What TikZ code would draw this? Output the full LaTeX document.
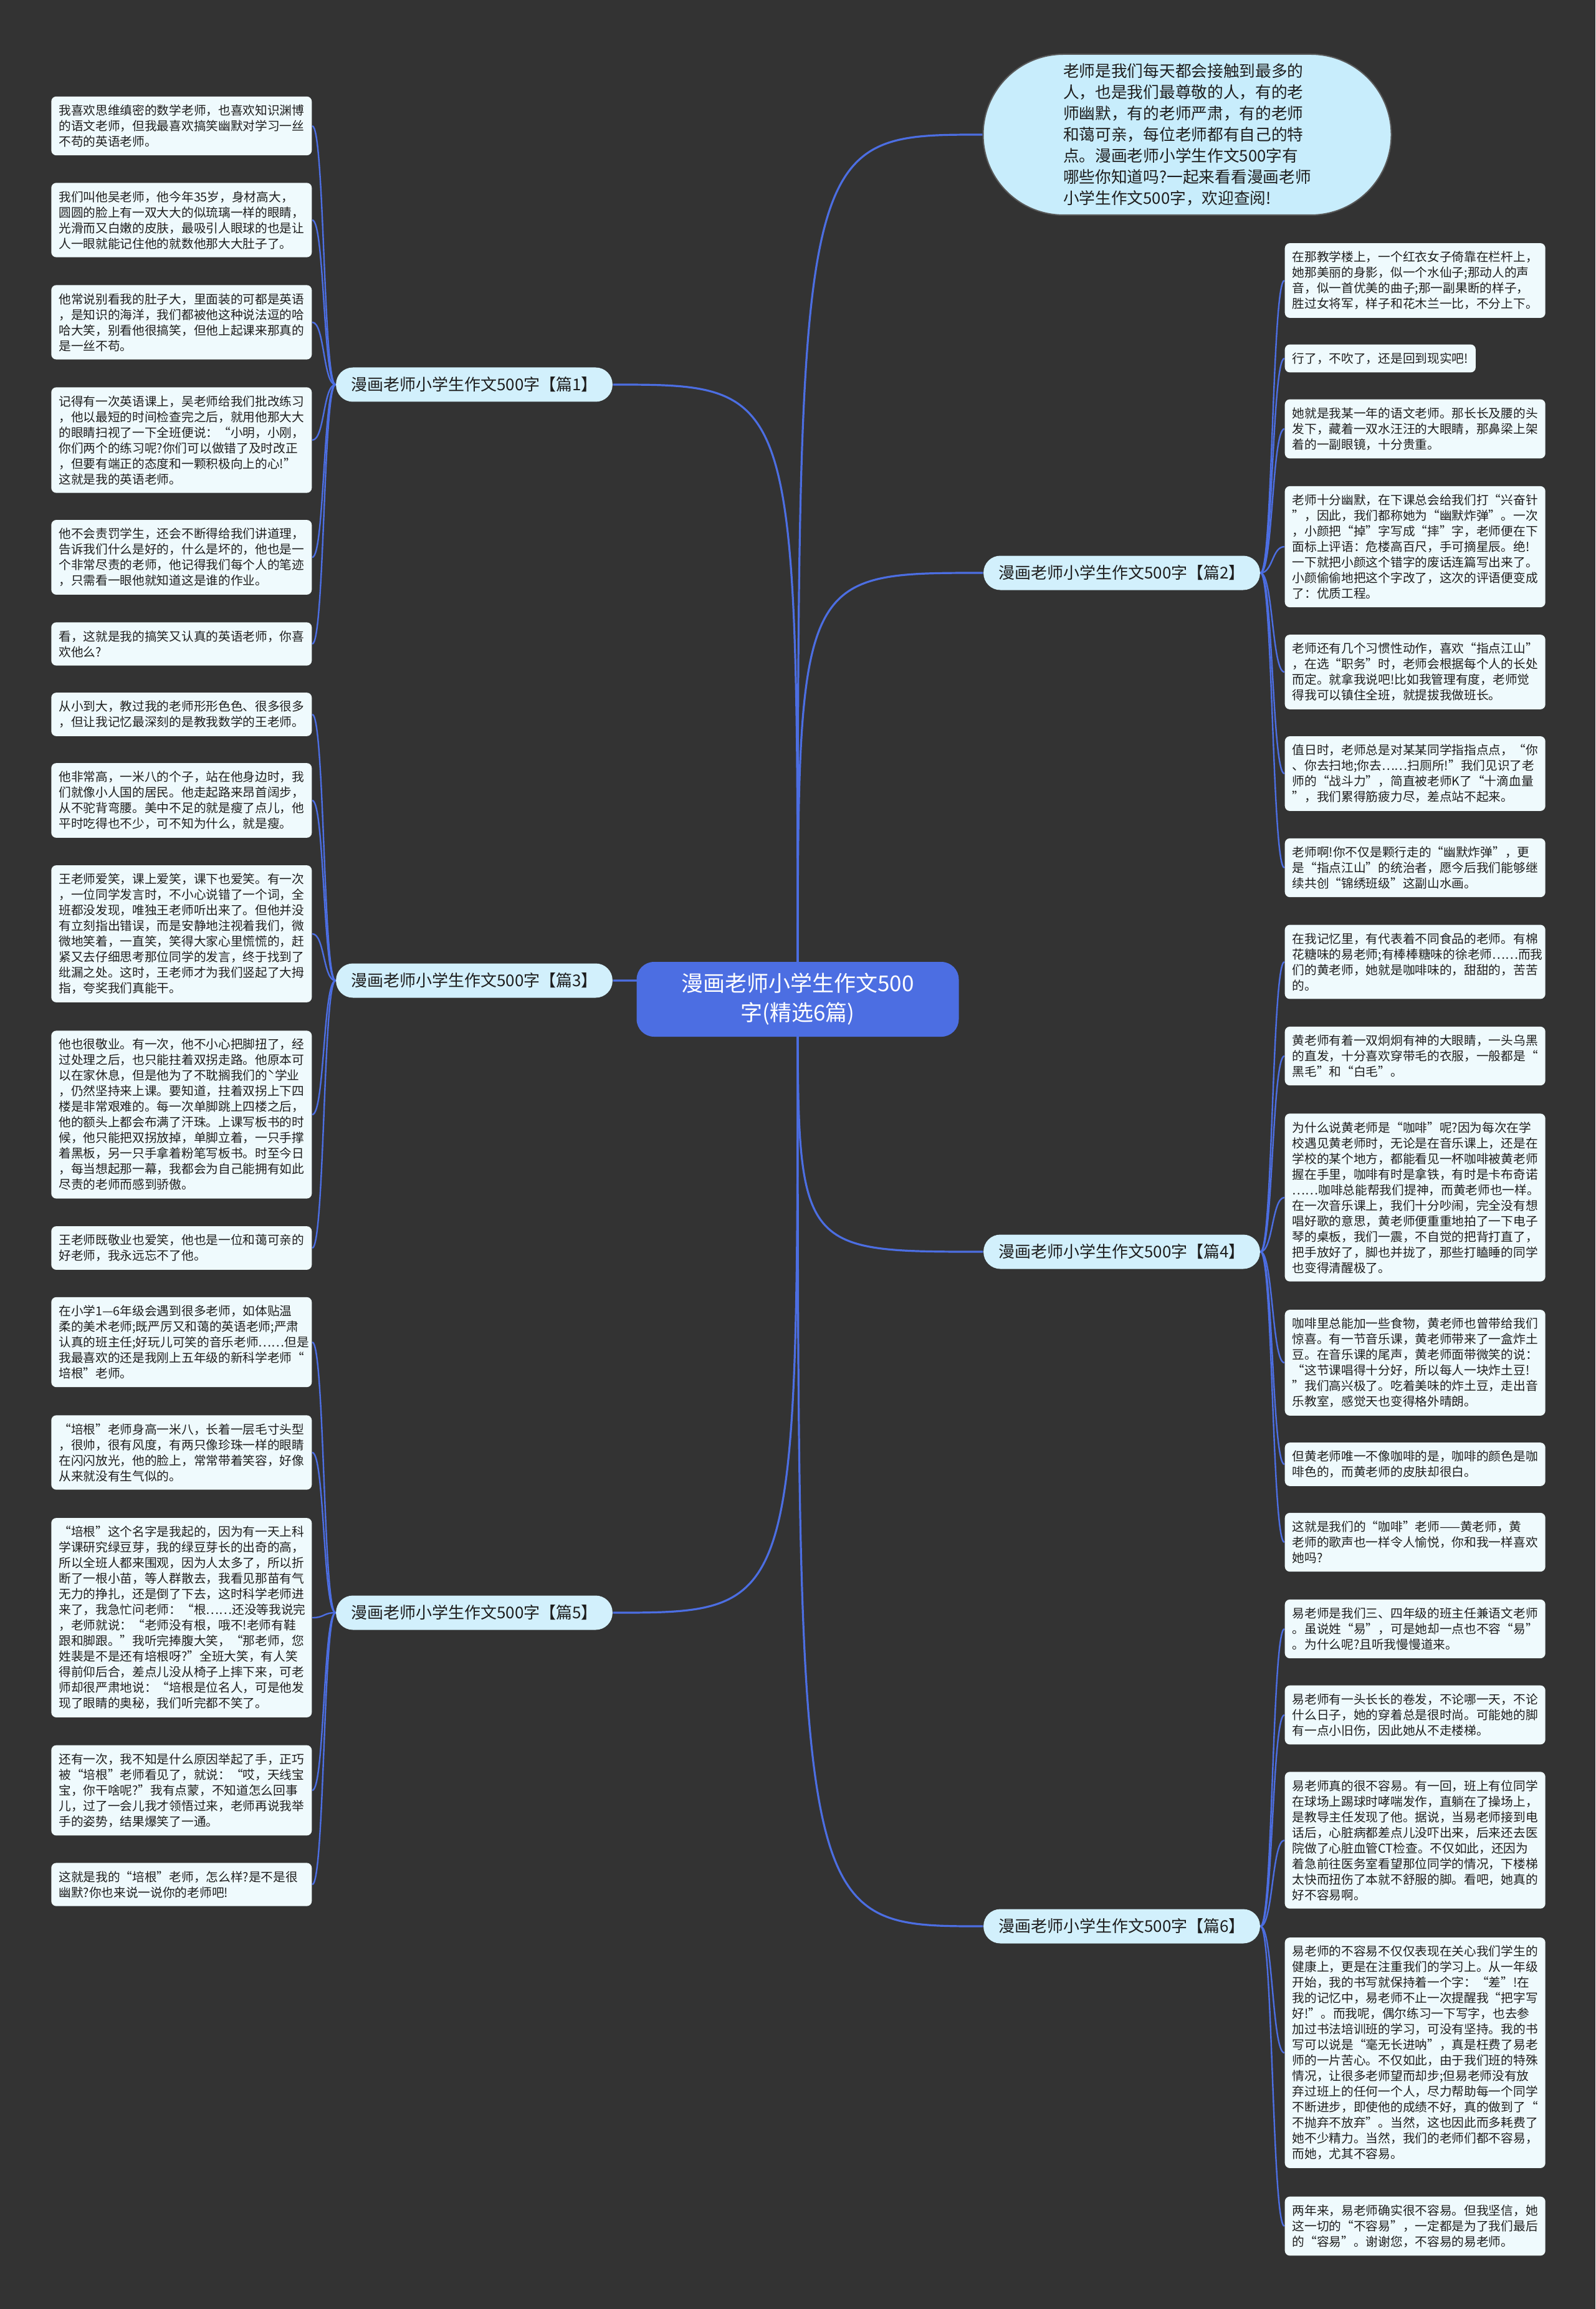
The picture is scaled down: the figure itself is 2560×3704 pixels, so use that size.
\documentclass[tikz,border=0pt]{standalone}
\usepackage{fontspec}
\setmainfont{Noto Sans CJK SC}
\usetikzlibrary{positioning, backgrounds, calc}
\definecolor{mmbg}{HTML}{333333}
\definecolor{mmblue}{HTML}{4C6EE2}
\definecolor{mmbranch}{HTML}{D2F0FC}
\definecolor{mmleaf}{HTML}{EFFAFD}
\definecolor{mmintro}{HTML}{C8EDFC}
\definecolor{mmtext}{HTML}{1E1E1E}

\tikzset{
  rootbox/.style={fill=mmblue, text=white, rounded corners=2.8mm, align=center,
    minimum width=51.7mm, minimum height=12mm, inner sep=1mm,
    font=\fontsize{3.5mm}{4.7mm}\selectfont},
  introbox/.style={fill=mmintro, draw=black!65, line width=0.2mm, rounded corners=12.9mm,
    minimum width=65.5mm, minimum height=25.8mm, align=left, text=mmtext,
    font=\fontsize{2.57mm}{3.4mm}\selectfont},
  branchbox/.style={fill=mmbranch, text=mmtext, rounded corners=2.7mm,
    inner xsep=2.4mm, inner ysep=1.4mm, minimum height=5.5mm,
    font=\fontsize{2.6mm}{3mm}\selectfont},
  leafbox/.style={fill=mmleaf, text=mmtext, rounded corners=0.8mm, align=left,
    text width=39.4mm, inner xsep=1.2mm, inner ysep=1.3mm,
    font=\fontsize{1.97mm}{2.5mm}\selectfont},
  leafshort/.style={fill=mmleaf, text=mmtext, rounded corners=0.8mm, align=left,
    inner xsep=1.2mm, inner ysep=1.3mm,
    font=\fontsize{1.97mm}{2.5mm}\selectfont},
  rootedge/.style={draw=mmblue, line width=0.32mm},
  leafedge/.style={draw=mmblue, line width=0.24mm}
}

\begin{document}
\begin{tikzpicture}[x=0.1mm, y=-0.1mm]
\useasboundingbox (0,0) rectangle (2560,3704);

% centre and intro
\node[rootbox] (root) at (1280,1603) {漫画老师小学生作文500\\字(精选6篇)};
\node[introbox] (intro) at (1905,216) {老师是我们每天都会接触到最多的\\人，也是我们最尊敬的人，有的老\\师幽默，有的老师严肃，有的老师\\和蔼可亲，每位老师都有自己的特\\点。漫画老师小学生作文500字有\\哪些你知道吗?一起来看看漫画老师\\小学生作文500字，欢迎查阅!};

% branches
\node[branchbox] (p1) at (761,617) {漫画老师小学生作文500字【篇1】};
\node[branchbox] (p2) at (1800,919) {漫画老师小学生作文500字【篇2】};
\node[branchbox] (p3) at (761,1573) {漫画老师小学生作文500字【篇3】};
\node[branchbox] (p4) at (1800,2008) {漫画老师小学生作文500字【篇4】};
\node[branchbox] (p5) at (761,2587) {漫画老师小学生作文500字【篇5】};
\node[branchbox] (p6) at (1800,3090) {漫画老师小学生作文500字【篇6】};

% 篇1
\node[leafbox, anchor=east] (l1a) at (501,202) {我喜欢思维缜密的数学老师，也喜欢知识渊博\\的语文老师，但我最喜欢搞笑幽默对学习一丝\\不苟的英语老师。};
\node[leafbox, anchor=east] (l1b) at (501,353) {我们叫他吴老师，他今年35岁，身材高大，\\圆圆的脸上有一双大大的似琉璃一样的眼睛，\\光滑而又白嫩的皮肤，最吸引人眼球的也是让\\人一眼就能记住他的就数他那大大肚子了。};
\node[leafbox, anchor=east] (l1c) at (501,517) {他常说别看我的肚子大，里面装的可都是英语\\，是知识的海洋，我们都被他这种说法逗的哈\\哈大笑，别看他很搞笑，但他上起课来那真的\\是一丝不苟。};
\node[leafbox, anchor=east] (l1d) at (501,706) {记得有一次英语课上，吴老师给我们批改练习\\，他以最短的时间检查完之后，就用他那大大\\的眼睛扫视了一下全班便说：“小明，小刚，\\你们两个的练习呢?你们可以做错了及时改正\\，但要有端正的态度和一颗积极向上的心!”\\这就是我的英语老师。};
\node[leafbox, anchor=east] (l1e) at (501,894) {他不会责罚学生，还会不断得给我们讲道理，\\告诉我们什么是好的，什么是坏的，他也是一\\个非常尽责的老师，他记得我们每个人的笔迹\\，只需看一眼他就知道这是谁的作业。};
\node[leafbox, anchor=east] (l1f) at (501,1033) {看，这就是我的搞笑又认真的英语老师，你喜\\欢他么?};

% 篇3
\node[leafbox, anchor=east] (l3a) at (501,1146) {从小到大，教过我的老师形形色色、很多很多\\，但让我记忆最深刻的是教我数学的王老师。};
\node[leafbox, anchor=east] (l3b) at (501,1284) {他非常高，一米八的个子，站在他身边时，我\\们就像小人国的居民。他走起路来昂首阔步，\\从不驼背弯腰。美中不足的就是瘦了点儿，他\\平时吃得也不少，可不知为什么，就是瘦。};
\node[leafbox, anchor=east] (l3c) at (501,1498) {王老师爱笑，课上爱笑，课下也爱笑。有一次\\，一位同学发言时，不小心说错了一个词，全\\班都没发现，唯独王老师听出来了。但他并没\\有立刻指出错误，而是安静地注视着我们，微\\微地笑着，一直笑，笑得大家心里慌慌的，赶\\紧又去仔细思考那位同学的发言，终于找到了\\纰漏之处。这时，王老师才为我们竖起了大拇\\指，夸奖我们真能干。};
\node[leafbox, anchor=east] (l3d) at (501,1788) {他也很敬业。有一次，他不小心把脚扭了，经\\过处理之后，也只能拄着双拐走路。他原本可\\以在家休息，但是他为了不耽搁我们的ˋ学业\\，仍然坚持来上课。要知道，拄着双拐上下四\\楼是非常艰难的。每一次单脚跳上四楼之后，\\他的额头上都会布满了汗珠。上课写板书的时\\候，他只能把双拐放掉，单脚立着，一只手撑\\着黑板，另一只手拿着粉笔写板书。时至今日\\，每当想起那一幕，我都会为自己能拥有如此\\尽责的老师而感到骄傲。};
\node[leafbox, anchor=east] (l3e) at (501,2002) {王老师既敬业也爱笑，他也是一位和蔼可亲的\\好老师，我永远忘不了他。};

% 篇5
\node[leafbox, anchor=east] (l5a) at (501,2153) {在小学1—6年级会遇到很多老师，如体贴温\\柔的美术老师;既严厉又和蔼的英语老师;严肃\\认真的班主任;好玩儿可笑的音乐老师……但是\\我最喜欢的还是我刚上五年级的新科学老师“\\培根”老师。};
\node[leafbox, anchor=east] (l5b) at (501,2330) {“培根”老师身高一米八，长着一层毛寸头型\\，很帅，很有风度，有两只像珍珠一样的眼睛\\在闪闪放光，他的脸上，常常带着笑容，好像\\从来就没有生气似的。};
\node[leafbox, anchor=east] (l5c) at (501,2595) {“培根”这个名字是我起的，因为有一天上科\\学课研究绿豆芽，我的绿豆芽长的出奇的高，\\所以全班人都来围观，因为人太多了，所以折\\断了一根小苗，等人群散去，我看见那苗有气\\无力的挣扎，还是倒了下去，这时科学老师进\\来了，我急忙问老师：“根……还没等我说完\\，老师就说：“老师没有根，哦不!老师有鞋\\跟和脚跟。”我听完捧腹大笑，“那老师，您\\姓裴是不是还有培根呀?”全班大笑，有人笑\\得前仰后合，差点儿没从椅子上摔下来，可老\\师却很严肃地说：“培根是位名人，可是他发\\现了眼睛的奥秘，我们听完都不笑了。};
\node[leafbox, anchor=east] (l5d) at (501,2872) {还有一次，我不知是什么原因举起了手，正巧\\被“培根”老师看见了，就说：“哎，天线宝\\宝，你干啥呢?”我有点蒙，不知道怎么回事\\儿，过了一会儿我才领悟过来，老师再说我举\\手的姿势，结果爆笑了一通。};
\node[leafbox, anchor=east] (l5e) at (501,3023) {这就是我的“培根”老师，怎么样?是不是很\\幽默?你也来说一说你的老师吧!};

% 篇2
\node[leafbox, anchor=west] (r2a) at (2061,450) {在那教学楼上，一个红衣女子倚靠在栏杆上，\\她那美丽的身影，似一个水仙子;那动人的声\\音，似一首优美的曲子;那一副果断的样子，\\胜过女将军，样子和花木兰一比，不分上下。};
\node[leafshort, anchor=west] (r2b) at (2061,575) {行了，不吹了，还是回到现实吧!};
\node[leafbox, anchor=west] (r2c) at (2061,688) {她就是我某一年的语文老师。那长长及腰的头\\发下，藏着一双水汪汪的大眼睛，那鼻梁上架\\着的一副眼镜，十分贵重。};
\node[leafbox, anchor=west] (r2d) at (2061,877) {老师十分幽默，在下课总会给我们打“兴奋针\\”，因此，我们都称她为“幽默炸弹”。一次\\，小颜把“掉”字写成“摔”字，老师便在下\\面标上评语：危楼高百尺，手可摘星辰。绝!\\一下就把小颜这个错字的废话连篇写出来了。\\小颜偷偷地把这个字改了，这次的评语便变成\\了：优质工程。};
\node[leafbox, anchor=west] (r2e) at (2061,1078) {老师还有几个习惯性动作，喜欢“指点江山”\\，在选“职务”时，老师会根据每个人的长处\\而定。就拿我说吧!比如我管理有度，老师觉\\得我可以镇住全班，就提拔我做班长。};
\node[leafbox, anchor=west] (r2f) at (2061,1241) {值日时，老师总是对某某同学指指点点，“你\\、你去扫地;你去……扫厕所!”我们见识了老\\师的“战斗力”，简直被老师K了“十滴血量\\”，我们累得筋疲力尽，差点站不起来。};
\node[leafbox, anchor=west] (r2g) at (2061,1392) {老师啊!你不仅是颗行走的“幽默炸弹”，更\\是“指点江山”的统治者，愿今后我们能够继\\续共创“锦绣班级”这副山水画。};

% 篇4
\node[leafbox, anchor=west] (r4a) at (2061,1543) {在我记忆里，有代表着不同食品的老师。有棉\\花糖味的易老师;有棒棒糖味的徐老师……而我\\们的黄老师，她就是咖啡味的，甜甜的，苦苦\\的。};
\node[leafbox, anchor=west] (r4b) at (2061,1694) {黄老师有着一双炯炯有神的大眼睛，一头乌黑\\的直发，十分喜欢穿带毛的衣服，一般都是“\\黑毛”和“白毛”。};
\node[leafbox, anchor=west] (r4c) at (2061,1921) {为什么说黄老师是“咖啡”呢?因为每次在学\\校遇见黄老师时，无论是在音乐课上，还是在\\学校的某个地方，都能看见一杯咖啡被黄老师\\握在手里，咖啡有时是拿铁，有时是卡布奇诺\\……咖啡总能帮我们提神，而黄老师也一样。\\在一次音乐课上，我们十分吵闹，完全没有想\\唱好歌的意思，黄老师便重重地拍了一下电子\\琴的桌板，我们一震，不自觉的把背打直了，\\把手放好了，脚也并拢了，那些打瞌睡的同学\\也变得清醒极了。};
\node[leafbox, anchor=west] (r4d) at (2061,2186) {咖啡里总能加一些食物，黄老师也曾带给我们\\惊喜。有一节音乐课，黄老师带来了一盒炸土\\豆。在音乐课的尾声，黄老师面带微笑的说：\\“这节课唱得十分好，所以每人一块炸土豆!\\”我们高兴极了。吃着美味的炸土豆，走出音\\乐教室，感觉天也变得格外晴朗。};
\node[leafbox, anchor=west] (r4e) at (2061,2349) {但黄老师唯一不像咖啡的是，咖啡的颜色是咖\\啡色的，而黄老师的皮肤却很白。};
\node[leafbox, anchor=west] (r4f) at (2061,2474) {这就是我们的“咖啡”老师——黄老师，黄\\老师的歌声也一样令人愉悦，你和我一样喜欢\\她吗?};

% 篇6
\node[leafbox, anchor=west] (r6a) at (2061,2613) {易老师是我们三、四年级的班主任兼语文老师\\。虽说姓“易”，可是她却一点也不容“易”\\。为什么呢?且听我慢慢道来。};
\node[leafbox, anchor=west] (r6b) at (2061,2751) {易老师有一头长长的卷发，不论哪一天，不论\\什么日子，她的穿着总是很时尚。可能她的脚\\有一点小旧伤，因此她从不走楼梯。};
\node[leafbox, anchor=west] (r6c) at (2061,2952) {易老师真的很不容易。有一回，班上有位同学\\在球场上踢球时哮喘发作，直躺在了操场上，\\是教导主任发现了他。据说，当易老师接到电\\话后，心脏病都差点儿没吓出来，后来还去医\\院做了心脏血管CT检查。不仅如此，还因为\\着急前往医务室看望那位同学的情况，下楼梯\\太快而扭伤了本就不舒服的脚。看吧，她真的\\好不容易啊。};
\node[leafbox, anchor=west] (r6d) at (2061,3293) {易老师的不容易不仅仅表现在关心我们学生的\\健康上，更是在注重我们的学习上。从一年级\\开始，我的书写就保持着一个字：“差”!在\\我的记忆中，易老师不止一次提醒我“把字写\\好!”。而我呢，偶尔练习一下写字，也去参\\加过书法培训班的学习，可没有坚持。我的书\\写可以说是“毫无长进呐”，真是枉费了易老\\师的一片苦心。不仅如此，由于我们班的特殊\\情况，让很多老师望而却步;但易老师没有放\\弃过班上的任何一个人，尽力帮助每一个同学\\不断进步，即使他的成绩不好，真的做到了“\\不抛弃不放弃”。当然，这也因此而多耗费了\\她不少精力。当然，我们的老师们都不容易，\\而她，尤其不容易。};
\node[leafbox, anchor=west] (r6e) at (2061,3571) {两年来，易老师确实很不容易。但我坚信，她\\这一切的“不容易”，一定都是为了我们最后\\的“容易”。谢谢您，不容易的易老师。};

% connectors behind the boxes
\begin{scope}[on background layer]
  \fill[mmbg] (0,0) rectangle (2560,3704);
  \foreach \b in {p1,p3,p5}
    \draw[rootedge] (root.center) .. controls (root.center |- \b.east) .. (\b.east);
  \foreach \b in {intro,p2,p4,p6}
    \draw[rootedge] (root.center) .. controls (root.center |- \b.west) .. (\b.west);
  \foreach \l in {l1a,l1b,l1c,l1d,l1e,l1f}
    \draw[leafedge] (p1.west) .. controls +(-20,0) and +(20,0) .. (\l.east);
  \foreach \l in {l3a,l3b,l3c,l3d,l3e}
    \draw[leafedge] (p3.west) .. controls +(-20,0) and +(20,0) .. (\l.east);
  \foreach \l in {l5a,l5b,l5c,l5d,l5e}
    \draw[leafedge] (p5.west) .. controls +(-20,0) and +(20,0) .. (\l.east);
  \foreach \l in {r2a,r2b,r2c,r2d,r2e,r2f,r2g}
    \draw[leafedge] (p2.east) .. controls +(20,0) and +(-20,0) .. (\l.west);
  \foreach \l in {r4a,r4b,r4c,r4d,r4e,r4f}
    \draw[leafedge] (p4.east) .. controls +(20,0) and +(-20,0) .. (\l.west);
  \foreach \l in {r6a,r6b,r6c,r6d,r6e}
    \draw[leafedge] (p6.east) .. controls +(20,0) and +(-20,0) .. (\l.west);
\end{scope}
\end{tikzpicture}
\end{document}
